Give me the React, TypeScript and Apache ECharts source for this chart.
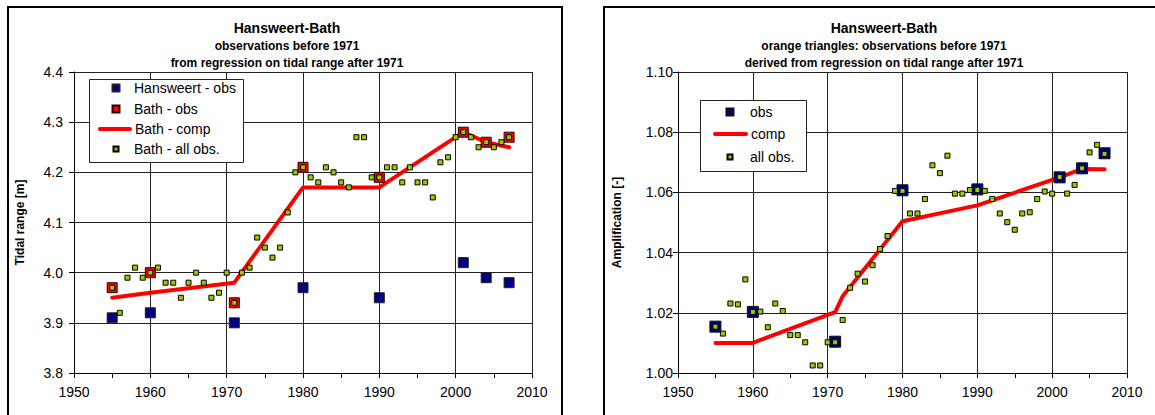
import React, { useEffect, useRef } from "react";
import * as echarts from "echarts";

// ---- data ----
const obsYears = [1955, 1960, 1971, 1980, 1990, 2001, 2004, 2007];
const hansweertObs = [3.91, 3.92, 3.9, 3.97, 3.95, 4.02, 3.99, 3.98];
const bathObs = [3.97, 4.0, 3.94, 4.21, 4.19, 4.28, 4.26, 4.27];
const bathComp = [3.95, 3.96, 3.98, 4.17, 4.17, 4.28, 4.26, 4.25];

const allYears = [
  1955, 1956, 1957, 1958, 1959, 1960, 1961, 1962, 1963, 1964, 1965, 1966, 1967, 1968,
  1969, 1970, 1971, 1972, 1973, 1974, 1975, 1976, 1977, 1978, 1979, 1980, 1981, 1982,
  1983, 1984, 1985, 1986, 1987, 1988, 1989, 1990, 1991, 1992, 1993, 1994, 1995, 1996,
  1997, 1998, 1999, 2000, 2001, 2002, 2003, 2004, 2005, 2006, 2007,
];
const bathAll = [
  3.97, 3.92, 3.99, 4.01, 3.99, 4.0, 4.01, 3.98, 3.98, 3.95, 3.98, 4.0, 3.98, 3.95,
  3.96, 4.0, 3.94, 4.0, 4.01, 4.07, 4.05, 4.03, 4.05, 4.12, 4.2, 4.21, 4.19, 4.18,
  4.21, 4.2, 4.18, 4.17, 4.27, 4.27, 4.19, 4.19, 4.21, 4.21, 4.18, 4.21, 4.18, 4.18,
  4.15, 4.22, 4.23, 4.27, 4.28, 4.27, 4.25, 4.26, 4.25, 4.26, 4.27,
];

const amplObs = [1.0154, 1.0203, 1.0104, 1.0607, 1.061, 1.065, 1.068, 1.073];
const amplCompYears = [1955, 1960, 1971, 1972, 1980, 1990, 2001, 2004, 2007];
const amplComp = [1.01, 1.01, 1.0202, 1.0255, 1.0504, 1.0557, 1.065, 1.0678, 1.0677];
const amplAll = [
  1.0154, 1.0131, 1.0231, 1.0228, 1.0311, 1.0203, 1.0204, 1.0152, 1.0231, 1.0206,
  1.0126, 1.0126, 1.0102, 1.0025, 1.0025, 1.0102, 1.0102, 1.0176, 1.0283, 1.0330,
  1.0304, 1.0358, 1.0412, 1.0455, 1.0605, 1.0605, 1.0530, 1.0530, 1.0578, 1.0690,
  1.0664, 1.0722, 1.0596, 1.0596, 1.0608, 1.0608, 1.0605, 1.0578, 1.0530, 1.0501,
  1.0476, 1.0530, 1.0534, 1.0578, 1.0603, 1.0596, 1.0651, 1.0596, 1.0625, 1.0680,
  1.0733, 1.0758, 1.0728,
];

const xTicks = [1950, 2010];
const leftYRange = [3.8, 4.4];
const rightYRange = [1.0, 1.1];

const FONT = "'Liberation Sans', Arial, sans-serif";
const SQUARE = "path://M0,0L10,0L10,10L0,10Z";

function pairs(xs: number[], ys: number[]) {
  return xs.map((x, i) => [x, ys[i]]);
}

function xAxisFor(gridIndex: number) {
  return {
    type: "value",
    gridIndex,
    min: xTicks[0],
    max: xTicks[1],
    interval: 10,
    axisLine: { show: true, onZero: false, lineStyle: { color: "#000", width: 1 } },
    axisTick: { show: true, length: 5, lineStyle: { color: "#000" } },
    minorTick: { show: true, splitNumber: 2, length: 5, lineStyle: { color: "#000" } },
    minorSplitLine: { show: false },
    axisLabel: {
      fontFamily: FONT,
      fontSize: 14,
      color: "#000",
      margin: 12,
      formatter: (v: number) => String(v),
    },
    splitLine: { show: true, lineStyle: { color: "#222", width: 1 } },
  };
}

function yAxisFor(gridIndex: number, range: number[], interval: number, digits: number, name: string, gap: number, margin: number) {
  return {
    type: "value",
    gridIndex,
    min: range[0],
    max: range[1],
    interval,
    name,
    nameLocation: "middle",
    nameRotate: 90,
    nameGap: gap,
    nameTextStyle: { fontFamily: FONT, fontSize: 12, fontWeight: "bold", color: "#000" },
    axisLine: { show: true, onZero: false, lineStyle: { color: "#000", width: 1 } },
    axisTick: { show: true, length: 5, lineStyle: { color: "#000" } },
    axisLabel: {
      fontFamily: FONT,
      fontSize: 14,
      color: "#000",
      margin,
      formatter: (v: number) => v.toFixed(digits),
    },
    splitLine: { show: true, lineStyle: { color: "#222", width: 1 } },
  };
}

// one legend component per legend row, so each icon can have its own size
function legendItem(name: string, left: number, rowCenter: number, itemWidth: number, itemHeight: number, extra: any = {}) {
  return {
    data: [extra.icon ? { name, icon: extra.icon } : name],
    left,
    top: rowCenter - 7,
    orient: "vertical",
    padding: 0,
    itemGap: 0,
    itemWidth,
    itemHeight,
    symbolKeepAspect: true,
    selectedMode: false,
    textStyle: { fontFamily: FONT, fontSize: 14, color: "#000" },
    z: 10,
    ...(extra.lineStyle ? { lineStyle: extra.lineStyle } : {}),
  };
}

function titleTexts(cx: number, lines: string[]) {
  return [
    { type: "text", x: cx, y: 28, z: 10, style: { text: lines[0], font: `bold 14px ${FONT}`, fill: "#000", align: "center", verticalAlign: "middle" } },
    { type: "text", x: cx, y: 46, z: 10, style: { text: lines[1], font: `bold 12px ${FONT}`, fill: "#000", align: "center", verticalAlign: "middle" } },
    { type: "text", x: cx, y: 63, z: 10, style: { text: lines[2], font: `bold 12px ${FONT}`, fill: "#000", align: "center", verticalAlign: "middle" } },
  ];
}

export default function App() {
  const ref = useRef<HTMLDivElement>(null);

  useEffect(() => {
    if (!ref.current) return;
    const chart = echarts.init(ref.current, null, { renderer: "svg" });

    const greenStyle = { color: "#99CC00", borderColor: "#000", borderWidth: 1, opacity: 1 };
    const lineLegend = { lineStyle: { width: 4, cap: "round" } };

    const option: any = {
      animation: false,
      backgroundColor: "#fff",
      grid: [
        { left: 74, top: 72, width: 458, height: 301, show: false },
        { left: 678, top: 72, width: 449, height: 301, show: false },
      ],
      xAxis: [xAxisFor(0), xAxisFor(1)],
      yAxis: [
        yAxisFor(0, leftYRange, 0.1, 1, "Tidal range [m]", 48, 11),
        yAxisFor(1, rightYRange, 0.02, 2, "Amplification [-]", 55, 5),
      ],
      legend: [
        legendItem("Hansweert - obs", 111.5, 88, 26, 7, { icon: SQUARE }),
        legendItem("Bath - obs", 111.5, 109, 26, 7, { icon: SQUARE }),
        legendItem("Bath - comp", 98, 129, 30, 4, lineLegend),
        legendItem("Bath - all obs.", 112.5, 149, 26, 5, { icon: SQUARE }),
        legendItem("obs", 725.5, 112, 30, 7, { icon: SQUARE }),
        legendItem("comp", 713, 134, 31, 4, lineLegend),
        legendItem("all obs.", 726.5, 157, 30, 5, { icon: SQUARE }),
      ],
      series: [
        {
          name: "Bath - comp",
          type: "line",
          xAxisIndex: 0,
          yAxisIndex: 0,
          data: pairs(obsYears, bathComp),
          symbol: "none",
          lineStyle: { color: "#FF0000", width: 4, cap: "round", join: "round" },
          itemStyle: { color: "#FF0000" },
          z: 2,
        },
        {
          name: "Hansweert - obs",
          type: "scatter",
          xAxisIndex: 0,
          yAxisIndex: 0,
          data: pairs(obsYears, hansweertObs),
          symbol: "rect",
          symbolSize: 10,
          itemStyle: { color: "#000080", borderColor: "#222", borderWidth: 1, opacity: 1 },
          z: 3,
        },
        {
          name: "Bath - obs",
          type: "scatter",
          xAxisIndex: 0,
          yAxisIndex: 0,
          data: pairs(obsYears, bathObs),
          symbol: "rect",
          symbolSize: 10,
          itemStyle: { color: "#FF0000", borderColor: "#300", borderWidth: 1, opacity: 1 },
          z: 3,
        },
        {
          name: "Bath - all obs.",
          type: "scatter",
          xAxisIndex: 0,
          yAxisIndex: 0,
          data: pairs(allYears, bathAll),
          symbol: "rect",
          symbolSize: 5,
          itemStyle: greenStyle,
          z: 4,
        },
        {
          name: "comp",
          type: "line",
          xAxisIndex: 1,
          yAxisIndex: 1,
          data: pairs(amplCompYears, amplComp),
          symbol: "none",
          lineStyle: { color: "#FF0000", width: 4, cap: "round", join: "round" },
          itemStyle: { color: "#FF0000" },
          z: 2,
        },
        {
          name: "obs",
          type: "scatter",
          xAxisIndex: 1,
          yAxisIndex: 1,
          data: pairs(obsYears, amplObs),
          symbol: "rect",
          symbolSize: 11,
          itemStyle: { color: "#000080", borderColor: "#111", borderWidth: 1, opacity: 1 },
          z: 3,
        },
        {
          name: "all obs.",
          type: "scatter",
          xAxisIndex: 1,
          yAxisIndex: 1,
          data: pairs(allYears, amplAll),
          symbol: "rect",
          symbolSize: 5,
          itemStyle: greenStyle,
          z: 4,
        },
      ],
      graphic: [
        { type: "rect", z: 1, shape: { x: 8, y: 7, width: 554, height: 440 }, style: { fill: "none", stroke: "#000", lineWidth: 2 } },
        { type: "rect", z: 1, shape: { x: 604, y: 7, width: 600, height: 440 }, style: { fill: "none", stroke: "#000", lineWidth: 2 } },
        { type: "rect", z: 5, shape: { x: 89.5, y: 79.5, width: 154, height: 83 }, style: { fill: "#fff", stroke: "#222", lineWidth: 1 } },
        { type: "rect", z: 5, shape: { x: 700.5, y: 100.5, width: 106, height: 71 }, style: { fill: "#fff", stroke: "#222", lineWidth: 1 } },
        ...titleTexts(287, ["Hansweert-Bath", "observations before 1971", "from regression on tidal range after 1971"]),
        ...titleTexts(884, [
          "Hansweert-Bath",
          "orange triangles: observations before 1971",
          "derived from regression on tidal range after 1971",
        ]),
      ],
    };

    chart.setOption(option);
    return () => chart.dispose();
  }, []);

  return (
    <div
      ref={ref}
      style={{ position: "fixed", left: 0, top: 0, width: 1155, height: 415, background: "#fff" }}
    />
  );
}
